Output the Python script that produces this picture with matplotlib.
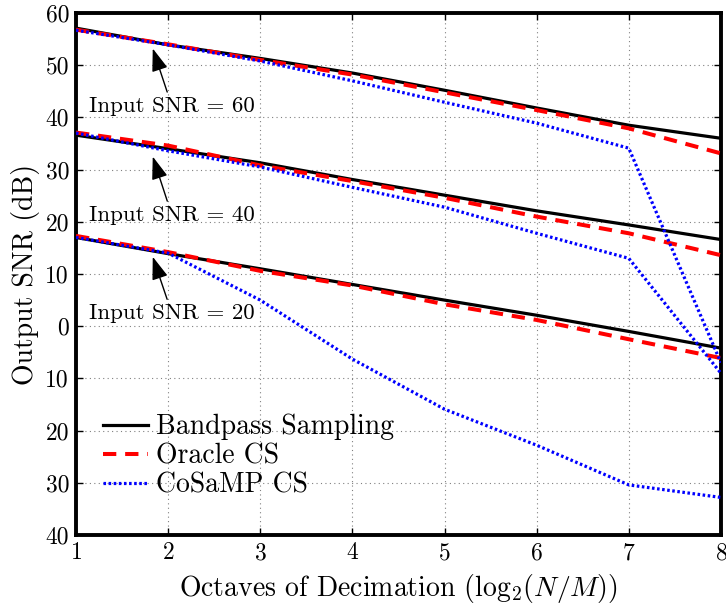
import matplotlib
matplotlib.use("Agg")
import matplotlib.pyplot as plt
from matplotlib.ticker import FuncFormatter

plt.rcParams['font.family'] = 'cmr10'
plt.rcParams['mathtext.fontset'] = 'cm'
plt.rcParams['axes.formatter.use_mathtext'] = True

octaves = [1, 2, 3, 4, 5, 6, 7, 8]

bandpass_60 = [57.1, 53.9, 51.3, 48.5, 45.2, 41.8, 38.5, 36.0]
oracle_60 = [56.8, 54.0, 51.0, 48.2, 44.8, 41.4, 37.9, 33.1]
cosamp_60 = [56.7, 53.9, 50.8, 47.0, 42.9, 38.9, 34.1, -7.0]

bandpass_40 = [36.6, 34.0, 31.3, 28.1, 25.1, 22.1, 19.4, 16.6]
oracle_40 = [37.1, 34.6, 30.8, 27.8, 24.6, 21.0, 17.8, 13.6]
cosamp_40 = [37.0, 33.6, 30.5, 26.6, 22.8, 17.8, 13.0, -9.0]

bandpass_20 = [17.0, 13.9, 11.0, 8.0, 5.0, 2.1, -1.0, -4.2]
oracle_20 = [17.3, 14.2, 10.6, 7.8, 4.2, 1.2, -2.5, -6.1]
cosamp_20 = [17.0, 14.0, 5.0, -6.3, -15.9, -22.8, -30.4, -32.8]

legend_labels = ["Bandpass Sampling", "Oracle CS", "CoSaMP CS"]
annot_labels = ["Input SNR = 60", "Input SNR = 40", "Input SNR = 20"]
annot_tips = [(1.833, 53.2), (1.833, 32.5), (1.833, 13.3)]
annot_text = [(2.04, 42.2), (2.04, 21.3), (2.04, 2.5)]

fig = plt.figure(figsize=(7.26, 6.04), dpi=100)
ax = fig.add_axes([0.1047, 0.1142, 0.8883, 0.8643])

groups = [(bandpass_60, oracle_60, cosamp_60),
          (bandpass_40, oracle_40, cosamp_40),
          (bandpass_20, oracle_20, cosamp_20)]
for i, (b, o, c) in enumerate(groups):
    ax.plot(octaves, b, color='black', lw=2.3, ls='-',
            label=legend_labels[0] if i == 0 else None, zorder=3)
    ax.plot(octaves, o, color='red', lw=2.9, ls=(0, (3.3, 2.2)),
            label=legend_labels[1] if i == 0 else None, zorder=4)
    ax.plot(octaves, c, color='blue', lw=2.3, ls=(0, (0.8, 0.8)),
            label=legend_labels[2] if i == 0 else None, zorder=5)

for lab, tip, txt in zip(annot_labels, annot_tips, annot_text):
    ax.annotate(lab, xy=tip, xytext=txt, ha='center', va='center', fontsize=16.5,
                arrowprops=dict(arrowstyle='-|>,head_length=0.85,head_width=0.3',
                                facecolor='black', edgecolor='black', lw=1.0,
                                shrinkA=1, shrinkB=0),
                zorder=6)

ax.set_xlim(1, 8)
ax.set_ylim(-40, 60)
ax.set_xticks(octaves)
ax.set_yticks(range(-40, 61, 10))
ax.yaxis.set_major_formatter(FuncFormatter(lambda v, p: f"{abs(int(round(v)))}"))
ax.tick_params(direction='in', top=True, right=True, labelsize=17, length=5, width=1, pad=5)
ax.grid(True, ls=(0, (1, 3)), color='gray', lw=0.8)
for s in ax.spines.values():
    s.set_linewidth(2.8)

ax.set_xlabel(r"Octaves of Decimation ($\mathrm{log}_2(N/M)$)", fontsize=20, labelpad=6)
ax.set_ylabel("Output SNR (dB)", fontsize=20, labelpad=4)

leg = ax.legend(loc='upper left', bbox_to_anchor=(0.042, 0.232), frameon=False,
                fontsize=20, handlelength=1.6, handletextpad=0.3, labelspacing=0.1,
                borderpad=0, borderaxespad=0)

fig.savefig("out.png", dpi=100)
